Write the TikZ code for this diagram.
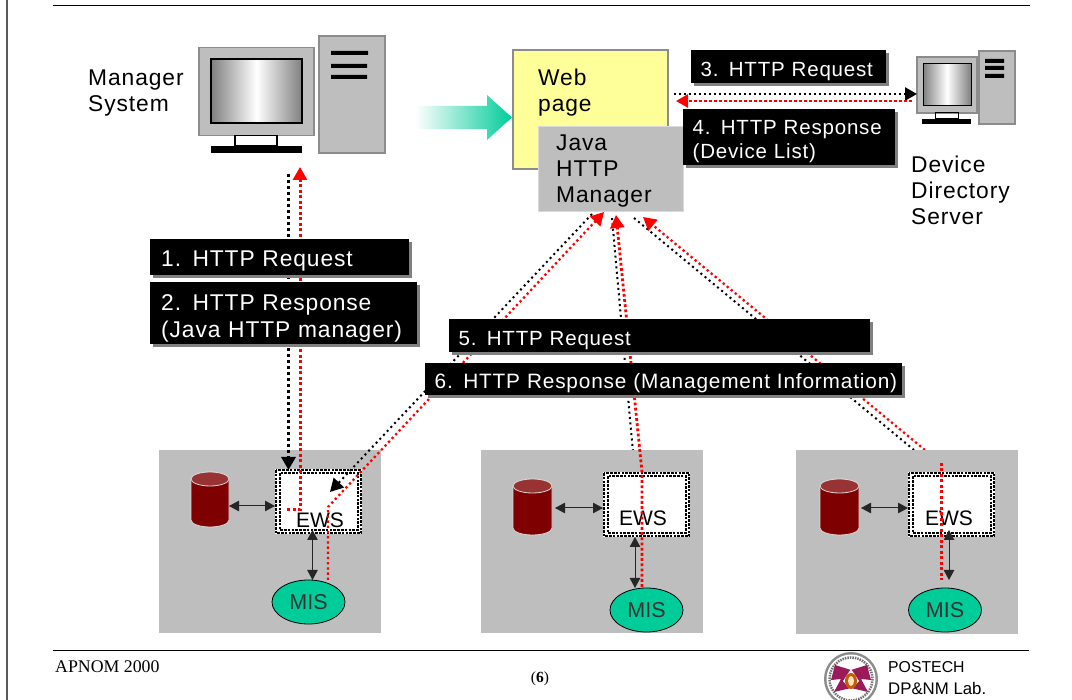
\documentclass[tikz,border=0pt]{standalone}
\usepackage{fontspec}
\setmainfont{Liberation Serif}
\newfontfamily\gul[LetterSpace=4]{Liberation Sans}
\newfontfamily\plainsans{Liberation Sans}
\usetikzlibrary{arrows.meta,shadows,calc,shapes.geometric}
\definecolor{panelgray}{HTML}{BEBEBE}
\definecolor{edgegray}{HTML}{8C8C8C}
\definecolor{misgreen}{HTML}{00CC99}
\definecolor{webyellow}{HTML}{FFFF99}
\definecolor{cylbody}{HTML}{7F0000}
\definecolor{cyltop}{HTML}{993333}
\definecolor{seal}{HTML}{9B1B5A}
\newcommand{\up}[1]{\rule{0pt}{#1pt}}
\tikzset{
  lbl/.style={inner sep=0pt,align=left,anchor=north west,text=black,
    font=\gul\fontsize{22.8}{26}\selectfont},
  blk/.style 2 args={rectangle,fill=black,text=white,inner xsep=9.5pt,inner ysep=0pt,
    anchor=north west,align=left,text width=#1pt-19pt,minimum height=#2pt,
    font=\gul\fontsize{20.5}{24}\selectfont,
    general shadow={fill=gray,shadow xshift=3pt,shadow yshift=-3pt}},
  blkbig/.style={font=\gul\fontsize{22.8}{27}\selectfont,inner xsep=11pt,text width=#1pt-22pt},
  blackdot/.style={draw=black,line width=2pt,dash pattern=on 2pt off 3.4pt},
  reddot/.style={draw=red,line width=2.3pt,dash pattern=on 2.3pt off 2.9pt},
  bigtip/.style={-{Triangle[length=13pt,width=14pt]}},
  link/.style={draw=black!85,line width=1pt,{Triangle[length=10pt,width=10.5pt]}-{Triangle[length=10pt,width=10.5pt]}},
  panel/.style={rectangle,fill=panelgray,anchor=north west,inner sep=0pt,minimum width=222pt,minimum height=183pt},
  mis/.style={ellipse,draw=black,fill=misgreen,line width=.8pt,minimum width=73pt,minimum height=44pt,inner sep=0pt,
    text=black!80,font=\plainsans\fontsize{21.5}{25}\selectfont},
  ews/.style={rectangle,fill=white,anchor=north west,inner sep=0pt,minimum width=87pt,minimum height=65pt},
  ewstext/.style={inner sep=0pt,anchor=base,font=\plainsans\fontsize{21}{25}\selectfont},
  hw/.style={fill=panelgray,draw=edgegray,line width=1.5pt},
  foot/.style={inner sep=0pt,anchor=base west},
}
\newcommand{\ewsframe}[1]{%
  \draw[black,line width=2pt,dash pattern=on 2.6pt off 1.2pt] ($(#1.north west)+(1,1)$) rectangle ($(#1.south east)+(-1,-1)$);
  \draw[black,line width=2pt,dash pattern=on 2.6pt off 1.2pt] ($(#1.north west)+(4.5,4.5)$) rectangle ($(#1.south east)+(-4.5,-4.5)$);
}
\newcommand{\cyl}[4]{% left, right, top, bottom
  \path[fill=cylbody,draw=white!85!black,line width=.8pt]
    (#1,#3+7) -- (#1,#4-7) arc[start angle=180,end angle=360,x radius={(#2-#1)/2},y radius=-7]
    -- (#2,#3+7) arc[start angle=0,end angle=180,x radius={(#2-#1)/2},y radius=-7] -- cycle;
  \path[fill=cyltop,draw=white!85!black,line width=.8pt] ({(#1+#2)/2},#3+7) ellipse[x radius={(#2-#1)/2},y radius=7];
}
\begin{document}
\begin{tikzpicture}[x=1pt,y=-1pt]
\useasboundingbox (0,0) rectangle (1072,700);
\fill[white] (0,0) rectangle (1072,700);
% page frame
\draw[black!65,line width=1.6pt] (7,0) -- (7,700);
\draw[black,line width=1.4pt] (53,5.5) -- (1030,5.5);
\draw[black,line width=1.2pt] (53,650.5) -- (1029,650.5);
% manager computer
\draw[hw] (199,47.5) rectangle (314,135.5);
\shade[left color=black!50,right color=black!50,middle color=white] (211,59) rectangle (302,123);
\draw[black,line width=1.3pt] (211,59) rectangle (302,123);
\draw[black,line width=1.2pt] (235,135.5) rectangle (277,146);
\fill[black] (211,146) rectangle (302,153);
\draw[hw] (319,36) rectangle (385,153);
\fill[black] (331,51) rectangle (368,55) (331,64) rectangle (367,68) (331,75) rectangle (367,79);
\node[lbl] (mgr) at (88,70) {Manager\\System};
% green arrow
\shade[left color=white,right color=misgreen]
  (415,106) -- (487,106) -- (487,95) -- (512,117.5) -- (487,140) -- (487,129) -- (415,129) -- cycle;
% web page and java manager
\node[rectangle,draw=edgegray,line width=2.4pt,fill=webyellow,anchor=north west,inner sep=0pt,outer sep=0pt,
  minimum width=155pt,minimum height=119pt] (web) at (513,50) {};
\node[lbl] (webtxt) at (538,69) {Web\\page};
\node[rectangle,fill=panelgray,draw=white!85!black,line width=.5pt,anchor=north west,inner sep=0pt,outer sep=0pt,
  minimum width=145pt,minimum height=85pt] (java) at (538,126) {};
\node[lbl] (javatxt) at (556,134.5) {Java\\HTTP\\Manager};
% device directory computer
\draw[hw] (917,57) rectangle (977,113);
\shade[left color=black!50,right color=black!50,middle color=white] (923,64) rectangle (971,106);
\draw[black,line width=1pt] (923,64) rectangle (971,106);
\draw[black,line width=1pt] (935,113) rectangle (958,119);
\fill[black] (922,119) rectangle (971,124);
\draw[hw] (979,51) rectangle (1015,124);
\fill[black] (985,59) rectangle (1004,63) (985,66) rectangle (1004,70) (985,74) rectangle (1004,78);
\node[lbl] (dds) at (911,156) {Device\\Directory\\Server};
% anchors of the connectors
\coordinate (bA1) at (592,214); \coordinate (bB1) at (330,492);
\coordinate (bA2) at (612,218); \coordinate (bB2) at (632.8,450);
\coordinate (bA3) at (634,218); \coordinate (bB3) at (914,450);
\coordinate (rA1) at (604,212); \coordinate (rK1) at (328,507); \coordinate (rB1) at (328,580);
\coordinate (rA2) at (616,215); \coordinate (rB2) at (642,587);
\coordinate (rK2) at (642,472);
\coordinate (rA3) at (643,217); \coordinate (rB3) at (925,450);
\coordinate (rC3) at (941,463); \coordinate (rD3) at (941,580);
\coordinate (mA) at (288.5,174); \coordinate (mB) at (288.5,470);
\coordinate (mR) at (300,167); \coordinate (mS) at (300,510); \coordinate (mT) at (287,510);
\coordinate (dA) at (674,94); \coordinate (dB) at (917,94);
\coordinate (dC) at (912,101); \coordinate (dD) at (676,101);
% lines running behind the panels
\draw[blackdot] (bA2) -- (bB2);
\draw[blackdot] (bA3) -- (bB3);
\draw[reddot,bigtip] (rB3) -- (rA3);
% panels
\node[panel] (p1) at (159,450) {};
\node[panel] (p2) at (481,450) {};
\node[panel,minimum height=184pt] (p3) at (796,450) {};
% contents of panel 1
\cyl{191}{229}{472}{527}
\coordinate (c1) at (229,506);
\node[ews] (e1) at (275,469) {};
\ewsframe{e1}
\node[ewstext] (e1t) at (320,528) {EWS};
\node[mis] (m1) at (308.5,602) {MIS};
\draw[link] (c1) -- (e1.west |- c1);
\draw[link] (312.5,530) -- (312.5,580);
% contents of panel 2
\cyl{513}{552}{479}{535}
\coordinate (c2) at (555,508);
\node[ews] (e2) at (603,472) {};
\ewsframe{e2}
\node[ewstext] (e2t) at (643,526) {EWS};
\node[mis] (m2) at (646.5,610) {MIS};
\draw[link] (c2) -- (e2.west |- c2);
\draw[link] (635,537) -- (635,588);
% contents of panel 3
\cyl{820}{859}{479}{535}
\coordinate (c3) at (861,508);
\node[ews] (e3) at (908,472) {};
\ewsframe{e3}
\node[ewstext] (e3t) at (949,526) {EWS};
\node[mis] (m3) at (945,610) {MIS};
\draw[link] (c3) -- (e3.west |- c3);
\draw[link] (949,530) -- (949,580);
% dotted connectors
\draw[blackdot,bigtip,line width=3pt,dash pattern=on 3pt off 3pt] (mA) -- (mB);
\draw[reddot,bigtip,line width=3pt,dash pattern=on 3pt off 2.5pt] (mT) -- (mS) -- (mR);
\draw[blackdot,bigtip] (bA1) -- (bB1);
\draw[reddot,bigtip] (rB1) -- (rK1) -- (rA1);
\draw[reddot,bigtip,line width=2.8pt,dash pattern=on 2.8pt off 2.4pt] (rB2) -- (rK2) -- (rA2);
\draw[reddot,line width=3pt,dash pattern=on 3pt off 2.5pt] (rC3) -- (rD3);
\draw[blackdot,-{Triangle[length=12pt,width=13pt]},line width=2.6pt,dash pattern=on 2.4pt off 2.6pt] (dA) -- (dB);
\draw[reddot,-{Triangle[length=12pt,width=13pt]},line width=2.8pt,dash pattern=on 2.6pt off 2.4pt] (dC) -- (dD);
% black labels
\node[blk={259}{36},blkbig=259] (b1) at (150,239) {\up{24}1. HTTP Request};
\node[blk={267}{62},blkbig=267] (b2) at (150,282) {\up{26}2. HTTP Response\\(Java HTTP manager)};
\node[blk={195}{33}] (b3) at (691,50) {\up{23}3. HTTP Request};
\node[blk={212}{56}] (b4) at (683,109) {\up{23}4. HTTP Response\\(Device List)};
\node[blk={421}{33}] (b5) at (449,319) {\up{23}5. HTTP Request};
\node[blk={477}{32},font=\gul\fontsize{20.8}{24}\selectfont] (b6) at (425,363) {\mbox{\up{23}6. HTTP Response (Management Information)}};
% footer
\node[foot,font=\fontsize{17.8}{20}\selectfont] (apnom) at (55,672) {APNOM 2000};
\node[inner sep=0pt,anchor=base,font=\fontsize{15.5}{18}\selectfont] (pg) at (540,682) {(\textbf{6})};
\node[foot,font=\plainsans\fontsize{15.8}{20}\selectfont] (po) at (888,672) {POSTECH};
\node[foot,font=\plainsans\fontsize{16.8}{20}\selectfont] (dp) at (888,694.5) {DP\&NM Lab.};
% seal
\begin{scope}
\clip (815,651.5) rectangle (885,700);
\fill[black!45] (851,679) circle[radius=27];
\fill[white] (851,679) circle[radius=24.5];
\draw[black!55,line width=2.5pt,dash pattern=on 1.5pt off 1pt] (851,679) circle[radius=21.5];
\fill[white] (851,679) circle[radius=19];
\fill[seal] (835,665) -- (851,670) -- (867,665) -- (871,680) -- (861,679) -- (868,692) -- (851,688) -- (834,692) -- (841,679) -- (831,680) -- cycle;
\fill[white] (851,669) -- (859,681) -- (851,690) -- (843,681) -- cycle;
\fill[orange!75!black] (851,681) ellipse[x radius=6,y radius=8];
\fill[orange!25] (851,681) ellipse[x radius=3,y radius=5];
\end{scope}
\end{tikzpicture}
\end{document}
